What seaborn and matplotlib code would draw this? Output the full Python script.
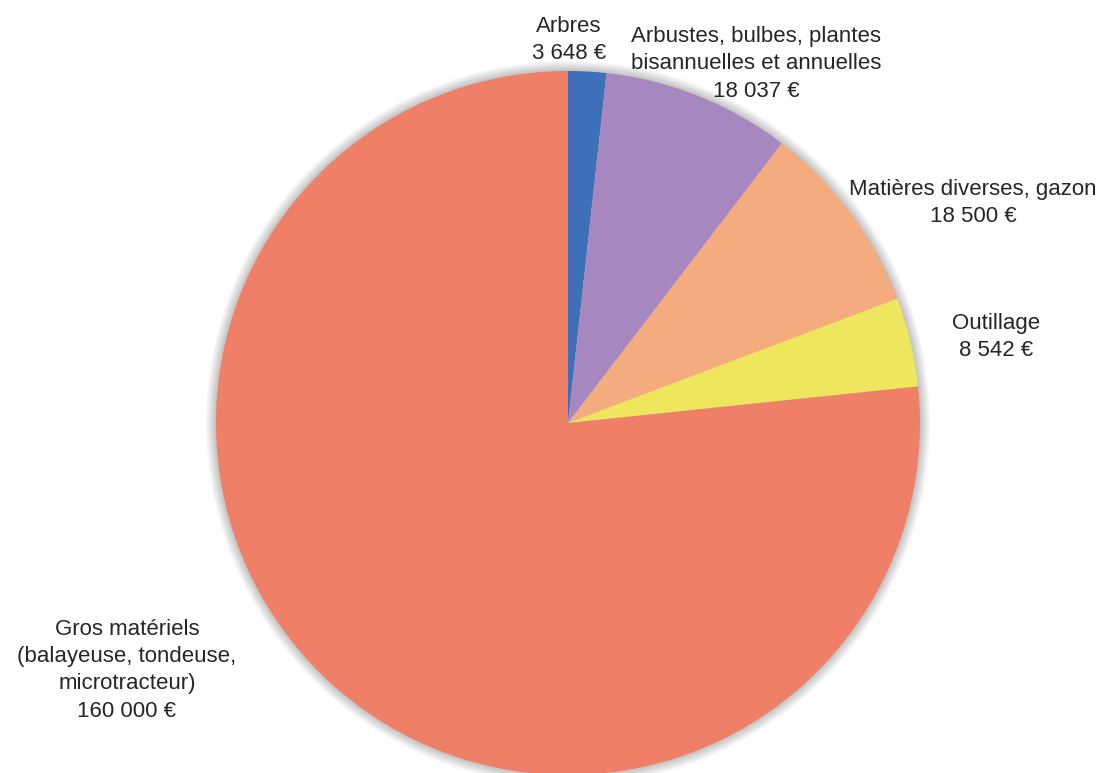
import matplotlib
matplotlib.use("Agg")
import matplotlib.pyplot as plt
from matplotlib.patches import Circle
import seaborn as sns

# Répartition du budget d'équipement (en euros)
categories = [
    "Arbres",
    "Arbustes, bulbes, plantes\nbisannuelles et annuelles",
    "Matières diverses, gazon",
    "Outillage",
    "Gros matériels\n(balayeuse, tondeuse,\nmicrotracteur)",
]
montants = [3648, 18037, 18500, 8542, 160000]
couleurs = ["#3D70B8", "#A787BF", "#F4AB7D", "#EEE65C", "#F07F68"]

# position des étiquettes (coordonnées du camembert, rayon = 1)
pos_etiquettes = [(0.003, 1.088), (0.534, 1.020), (1.151, 0.625), (1.216, 0.244), (-1.253, -0.702)]

sns.set_theme(style="white")
plt.rcParams["font.family"] = ["Liberation Sans", "DejaVu Sans"]

fig = plt.figure(figsize=(11.12, 7.73), dpi=100)
ax = fig.add_axes([0, 0, 1, 1])

# halo gris flou autour du camembert
for i in range(20):
    r = 1.0 + 0.0015 * (i + 1)
    ax.add_patch(Circle((0, 0), r, color="black", alpha=0.012, lw=0, zorder=0))

ax.pie(
    montants,
    colors=couleurs,
    startangle=90,
    counterclock=False,
    wedgeprops={"linewidth": 0, "zorder": 1},
)

def fmt(v):
    return f"{v:,}".replace(",", " ") + " €"

for cat, val, (x, y) in zip(categories, montants, pos_etiquettes):
    ax.text(x, y, f"{cat}\n{fmt(val)}", ha="center", va="center",
            fontsize=16, color="#262626", linespacing=1.4)

ax.set_xlim(-568 / 352, (1112 - 568) / 352)
ax.set_ylim(-(773 - 423) / 352, 423 / 352)
ax.set_aspect("equal")
ax.axis("off")

fig.savefig("out.png", dpi=100)
